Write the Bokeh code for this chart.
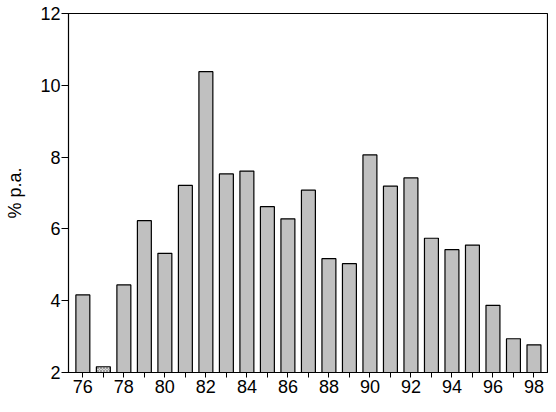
from bokeh.plotting import figure
from bokeh.models import Range1d, FixedTicker
from bokeh.embed import file_html
from bokeh.resources import INLINE

# years (19xx) and rates in % p.a.
years = [76, 77, 78, 79, 80, 81, 82, 83, 84, 85, 86, 87,
         88, 89, 90, 91, 92, 93, 94, 95, 96, 97, 98]
rates = [4.16, 2.16, 4.44, 6.23, 5.32, 7.21, 10.38, 7.53, 7.61, 6.62, 6.28, 7.08,
         5.17, 5.03, 8.06, 7.19, 7.42, 5.74, 5.42, 5.55, 3.87, 2.94, 2.77]
hatched_year = 77

plain_x = [y for y in years if y != hatched_year]
plain_top = [r for y, r in zip(years, rates) if y != hatched_year]
hatch_x = [y for y in years if y == hatched_year]
hatch_top = [r for y, r in zip(years, rates) if y == hatched_year]

p = figure(width=548, height=404, output_backend="svg", toolbar_location=None,
           x_range=Range1d(75.3, 98.66), y_range=Range1d(2, 12),
           frame_width=479, frame_height=359,
           min_border_left=68, min_border_right=1, min_border_top=13, min_border_bottom=32)

p.vbar(x=plain_x, top=plain_top, bottom=2, width=0.68,
       fill_color="#c0c0c0", line_color="black", line_width=1.2)
p.vbar(x=hatch_x, top=hatch_top, bottom=2, width=0.68,
       fill_color="#d8d8d8", line_color="black", line_width=1.2,
       hatch_pattern="x", hatch_color="#777777", hatch_scale=3, hatch_weight=0.6)

p.xgrid.visible = False
p.ygrid.visible = False
p.outline_line_color = "black"
p.outline_line_width = 1.2
p.background_fill_color = "white"
p.border_fill_color = "white"

p.xaxis.ticker = FixedTicker(ticks=list(range(76, 99, 2)), minor_ticks=list(range(77, 98, 2)))
p.yaxis.ticker = FixedTicker(ticks=[2, 4, 6, 8, 10, 12], minor_ticks=[])
p.yaxis.axis_label = "% p.a."

for ax in (p.xaxis[0], p.yaxis[0]):
    ax.axis_line_color = "black"
    ax.major_tick_line_color = "black"
    ax.minor_tick_line_color = "black"
    ax.major_tick_in = 0
    ax.major_tick_out = 5
    ax.minor_tick_in = 0
    ax.minor_tick_out = 5
    ax.major_label_text_font = "Liberation Sans"
    ax.major_label_text_font_size = "18px"
    ax.major_label_text_color = "black"
    ax.axis_label_text_font = "Liberation Sans"
    ax.axis_label_text_font_size = "18px"
    ax.axis_label_text_font_style = "normal"
    ax.axis_label_text_color = "black"

p.yaxis.major_tick_out = 7
p.xaxis.major_label_standoff = 2
p.yaxis.major_label_standoff = 1
p.yaxis.axis_label_standoff = 12

open("out.html", "w").write(file_html(p, INLINE))
